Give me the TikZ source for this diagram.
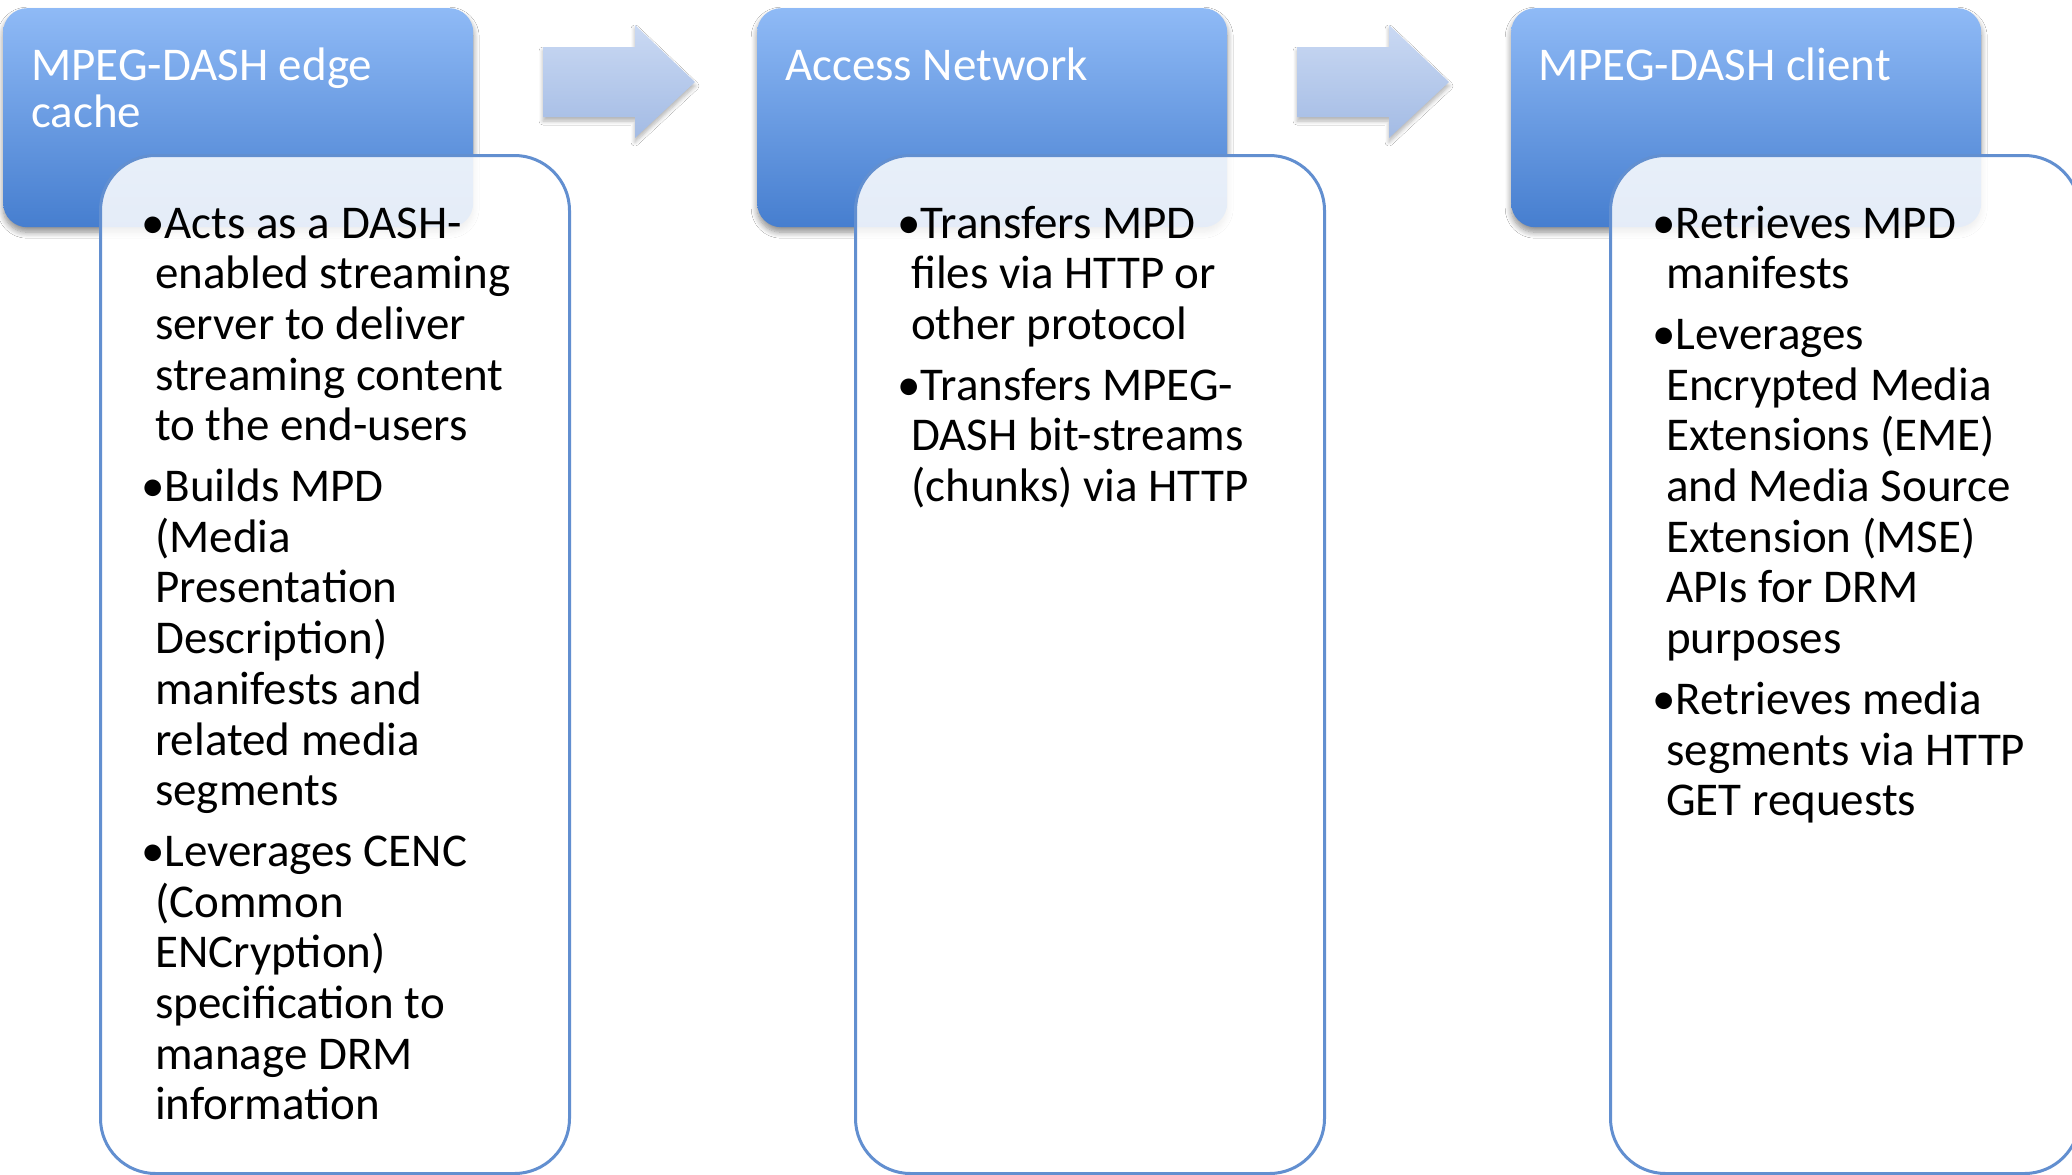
\documentclass[tikz,border=0pt]{standalone}
\usepackage{fontspec}
\setmainfont{Carlito}
\usetikzlibrary{shadows.blur}
\definecolor{hTop}{RGB}{143,186,246}
\definecolor{hBot}{RGB}{70,126,207}
\definecolor{aTop}{RGB}{202,217,243}
\definecolor{aBot}{RGB}{163,187,228}
\definecolor{bLine}{RGB}{98,143,208}
\newcommand{\bodyfont}{\fontsize{47}{50.7}\selectfont}
\newcommand{\headfont}{\fontsize{47}{47}\selectfont}
\newcommand{\bgap}{\par\vspace{10pt}}
\newcommand{\bhang}{\hangindent=14pt\hangafter=1 }
\begin{document}
\begin{tikzpicture}[x=1pt,y=-1pt]
\tikzset{
  headbox/.style={rounded corners=24pt, top color=hTop, bottom color=hBot, draw=none,
    anchor=north west, inner sep=0pt, minimum width=470pt, minimum height=219pt,
    blur shadow={shadow xshift=0pt, shadow yshift=-5pt, shadow blur steps=8,
      shadow blur radius=6pt, shadow opacity=45}},
  headtext/.style={text=white, anchor=base west, inner sep=0pt},
  bodybox/.style={draw=bLine, line width=3pt, fill=white, fill opacity=0.86,
    rounded corners=55pt, anchor=north west, inner sep=0pt,
    minimum width=469pt, minimum height=1018pt},
  bodytext/.style={text=black, anchor=base west, inner sep=0pt},
  blockarrow/.style={top color=aTop, bottom color=aBot, draw=none,
    blur shadow={shadow xshift=0pt, shadow yshift=-4pt, shadow blur steps=6,
      shadow blur radius=4pt, shadow opacity=30}}
}
\useasboundingbox (0,0) rectangle (2072,1175);
\clip (0,0) rectangle (2072,1175);
\fill[white] (0,0) rectangle (2072,1175);

% headers
\node[headbox] (h1) at (3,8) {};
\node[headbox] (h2) at (757,8) {};
\node[headbox] (h3) at (1511,8) {};

% block arrows
\foreach \dx/\nm in {0/a1,754/a2}{
  \coordinate (\nm) at (543+\dx,82);
  \path[blockarrow] (543+\dx,47) -- (635+\dx,47) -- (635+\dx,25) -- (695+\dx,82)
    -- (635+\dx,138) -- (635+\dx,117) -- (543+\dx,117) -- cycle;
}

% body boxes
\node[bodybox] (b1) at (99,154) {};
\node[bodybox] (b2) at (854,154) {};
\node[bodybox] (b3) at (1609,154) {};

% header texts
\node[headtext] (h1t) at (31,80) {\parbox[t]{440pt}{\headfont MPEG-DASH edge\\cache}};
\node[headtext] (h2t) at (785,80) {\parbox[t]{440pt}{\headfont Access Network}};
\node[headtext] (h3t) at (1538,80) {\parbox[t]{440pt}{\headfont MPEG-DASH client}};

% body texts
\node[bodytext] (t1) at (141,238) {\parbox[t]{440pt}{\bodyfont
\bhang •Acts as a DASH-\\enabled streaming\\server to deliver\\streaming content\\to the end-users\bgap
\bhang •Builds MPD\\(Media\\Presentation\\Description)\\manifests and\\related media\\segments\bgap
\bhang •Leverages CENC\\(Common\\ENCryption)\\specification to\\manage DRM\\information\par}};

\node[bodytext] (t2) at (897,238) {\parbox[t]{440pt}{\bodyfont
\bhang •Transfers MPD\\files via HTTP or\\other protocol\bgap
\bhang •Transfers MPEG-\\DASH bit-streams\\(chunks) via HTTP\par}};

\node[bodytext] (t3) at (1652,238) {\parbox[t]{440pt}{\bodyfont
\bhang •Retrieves MPD\\manifests\bgap
\bhang •Leverages\\Encrypted Media\\Extensions (EME)\\and Media Source\\Extension (MSE)\\APIs for DRM\\purposes\bgap
\bhang •Retrieves media\\segments via HTTP\\GET requests\par}};
\end{tikzpicture}
\end{document}
